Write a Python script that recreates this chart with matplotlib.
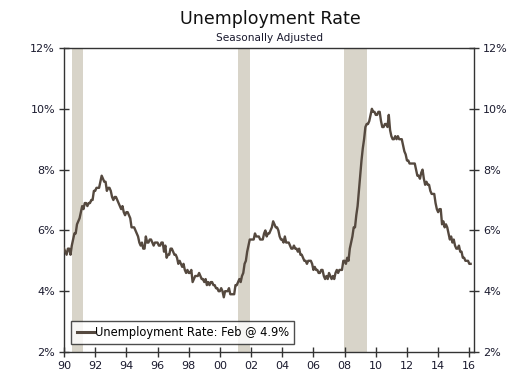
import numpy as np
import matplotlib
matplotlib.use("Agg")
import matplotlib.pyplot as plt
from matplotlib.ticker import FuncFormatter

start_year = 1990
unemployment = [
    5.4, 5.3, 5.2, 5.4, 5.4, 5.2, 5.5, 5.7, 5.9, 5.9, 6.2, 6.3,
    6.4, 6.6, 6.8, 6.7, 6.9, 6.9, 6.8, 6.9, 6.9, 7.0, 7.0, 7.3,
    7.3, 7.4, 7.4, 7.4, 7.6, 7.8, 7.7, 7.6, 7.6, 7.3, 7.4, 7.4,
    7.3, 7.1, 7.0, 7.1, 7.1, 7.0, 6.9, 6.8, 6.7, 6.8, 6.6, 6.5,
    6.6, 6.6, 6.5, 6.4, 6.1, 6.1, 6.1, 6.0, 5.9, 5.8, 5.6, 5.5,
    5.6, 5.4, 5.4, 5.8, 5.6, 5.6, 5.7, 5.7, 5.6, 5.5, 5.6, 5.6,
    5.6, 5.5, 5.5, 5.6, 5.6, 5.3, 5.5, 5.1, 5.2, 5.2, 5.4, 5.4,
    5.3, 5.2, 5.2, 5.1, 4.9, 5.0, 4.9, 4.8, 4.9, 4.7, 4.6, 4.7,
    4.6, 4.6, 4.7, 4.3, 4.4, 4.5, 4.5, 4.5, 4.6, 4.5, 4.4, 4.4,
    4.3, 4.4, 4.2, 4.3, 4.2, 4.3, 4.3, 4.2, 4.2, 4.1, 4.1, 4.0,
    4.0, 4.1, 4.0, 3.8, 4.0, 4.0, 4.0, 4.1, 3.9, 3.9, 3.9, 3.9,
    4.2, 4.2, 4.3, 4.4, 4.3, 4.5, 4.6, 4.9, 5.0, 5.3, 5.5, 5.7,
    5.7, 5.7, 5.7, 5.9, 5.8, 5.8, 5.8, 5.7, 5.7, 5.7, 5.9, 6.0,
    5.8, 5.9, 5.9, 6.0, 6.1, 6.3, 6.2, 6.1, 6.1, 6.0, 5.8, 5.7,
    5.7, 5.6, 5.8, 5.6, 5.6, 5.6, 5.5, 5.4, 5.4, 5.5, 5.4, 5.4,
    5.3, 5.4, 5.2, 5.2, 5.1, 5.0, 5.0, 4.9, 5.0, 5.0, 5.0, 4.9,
    4.7, 4.8, 4.7, 4.7, 4.6, 4.6, 4.7, 4.7, 4.5, 4.4, 4.5, 4.4,
    4.6, 4.5, 4.4, 4.5, 4.4, 4.6, 4.7, 4.6, 4.7, 4.7, 4.7, 5.0,
    5.0, 4.9, 5.1, 5.0, 5.4, 5.6, 5.8, 6.1, 6.1, 6.5, 6.8, 7.3,
    7.8, 8.3, 8.7, 9.0, 9.4, 9.5, 9.5, 9.6, 9.8, 10.0, 9.9, 9.9,
    9.8, 9.8, 9.9, 9.9, 9.6, 9.4, 9.4, 9.5, 9.5, 9.4, 9.8, 9.3,
    9.1, 9.0, 9.0, 9.1, 9.0, 9.1, 9.0, 9.0, 9.0, 8.8, 8.6, 8.5,
    8.3, 8.3, 8.2, 8.2, 8.2, 8.2, 8.2, 8.0, 7.8, 7.8, 7.7, 7.9,
    8.0, 7.7, 7.5, 7.6, 7.5, 7.5, 7.3, 7.2, 7.2, 7.2, 6.9, 6.7,
    6.6, 6.7, 6.7, 6.2, 6.3, 6.1, 6.2, 6.1, 5.9, 5.7, 5.8, 5.6,
    5.7, 5.5, 5.4, 5.4, 5.5, 5.3, 5.3, 5.1, 5.1, 5.0, 5.0, 5.0,
    4.9, 4.9,
]
recession_starts = [1990.54, 2001.17, 2007.96]
recession_ends = [1991.21, 2001.92, 2009.46]
x_ticks = list(range(1990, 2017, 2))
x_tick_labels = [f"{y % 100:02d}" for y in x_ticks]
y_ticks = [2, 4, 6, 8, 10, 12]
legend_label = "Unemployment Rate: Feb @ 4.9%"

dates = start_year + np.arange(len(unemployment)) / 12.0

fig = plt.figure(figsize=(5.14, 3.80), dpi=100)
ax = fig.add_axes([64/514, 28/380, 410/514, 304/380])

for s, e in zip(recession_starts, recession_ends):
    ax.axvspan(s, e, color="#D8D4C9", lw=0, zorder=0)

ax.plot(dates, unemployment, color="#55493F", lw=1.7, label=legend_label, zorder=3)

ax.set_xlim(1990.0, 2016.3)
ax.set_ylim(2, 12)
ax.set_xticks(x_ticks)
ax.set_xticklabels(x_tick_labels)
ax.set_yticks(y_ticks)
ax.yaxis.set_major_formatter(FuncFormatter(lambda v, p: f"{v:.0f}%"))

tick_color = "#333333"
ax.tick_params(axis="both", direction="inout", length=7, width=1, color=tick_color,
               labelsize=8, labelcolor="#1a1a2e", pad=3)
ax.tick_params(axis="y", right=True, labelright=True)
for sp in ax.spines.values():
    sp.set_color(tick_color)
    sp.set_linewidth(1)

leg = ax.legend(loc="lower left", bbox_to_anchor=(0.018, 0.025), fontsize=8.3,
                frameon=True, fancybox=False, edgecolor="#222222",
                handlelength=1.5, handletextpad=0.1, borderpad=0.45,
                borderaxespad=0.0)
leg.get_frame().set_linewidth(1)
for h in leg.get_lines():
    h.set_linewidth(2.2)

fig.text(270/514, 1 - 19/380, "Unemployment Rate", ha="center", va="center",
         fontsize=12.6, color="#111111")
fig.text(270/514, 1 - 38/380, "Seasonally Adjusted", ha="center", va="center",
         fontsize=7.6, color="#1a1a2e")

fig.savefig("out.png", dpi=100)
